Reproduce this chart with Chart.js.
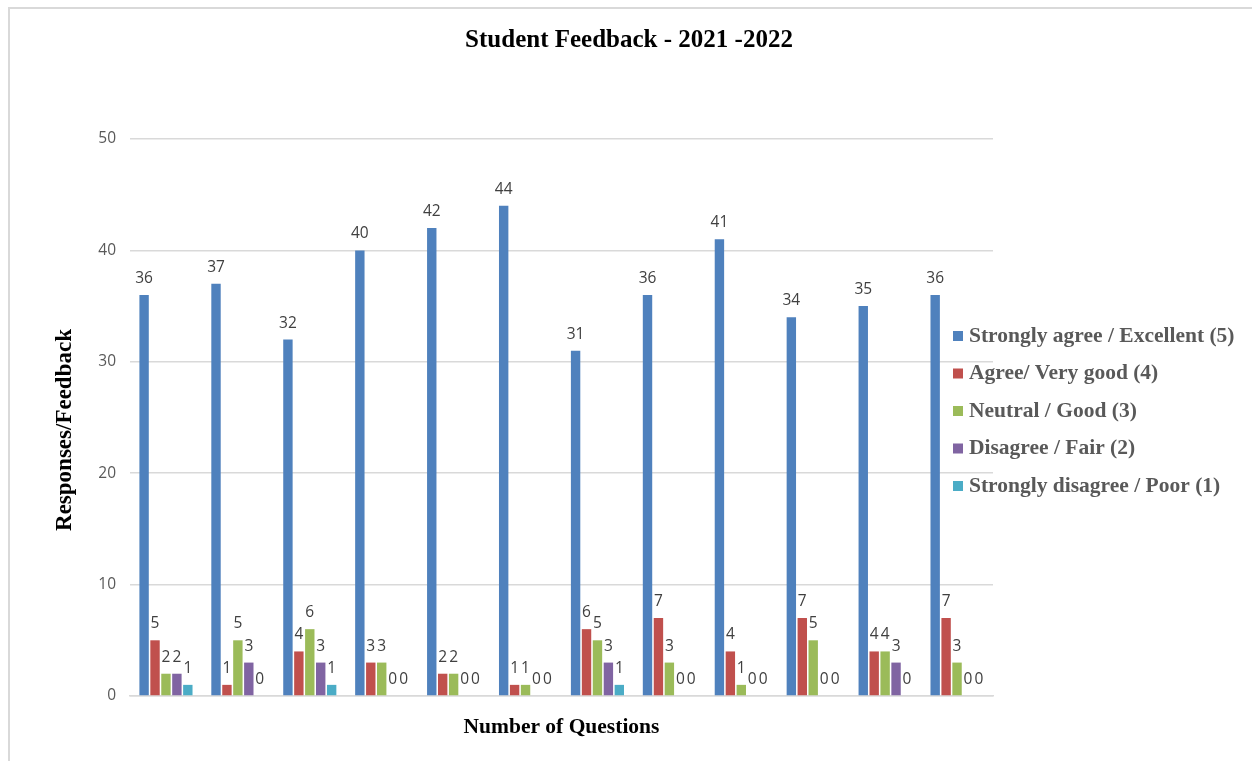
<!DOCTYPE html>
<html>
<head>
<meta charset="utf-8">
<title>Student Feedback - 2021 -2022</title>
<script src="https://cdn.jsdelivr.net/npm/chart.js@4.4.1/dist/chart.umd.min.js"></script>
<style>
  body { margin: 0; background: #fff; }
  .frame {
    position: absolute; left: 8px; top: 7px; right: 0; bottom: 0;
    border-left: 2px solid #d9d9d9; border-top: 2px solid #d9d9d9;
  }
  .wrap { position: absolute; left: 0; top: 0; width: 1252px; height: 761px; }
</style>
</head>
<body>
<div class="frame"></div>
<div class="wrap"><canvas class="grafico"></canvas></div>
<script>
const canvas = document.querySelector('.grafico');

const preguntas = ['Q1', 'Q2', 'Q3', 'Q4', 'Q5', 'Q6', 'Q7', 'Q8', 'Q9', 'Q10', 'Q11', 'Q12'];

const excelente = [36, 37, 32, 40, 42, 44, 31, 36, 41, 34, 35, 36];
const muyBueno  = [5, 1, 4, 3, 2, 1, 6, 7, 4, 7, 4, 7];
const bueno     = [2, 5, 6, 3, 2, 1, 5, 3, 1, 5, 4, 3];
const regular   = [2, 3, 3, 0, 0, 0, 3, 0, 0, 0, 3, 0];
const pobre     = [1, 0, 1, 0, 0, 0, 1, 0, 0, 0, 0, 0];

const series = [
    { label: 'Strongly agree / Excellent (5)', data: excelente, color: '#4f81bd' },
    { label: 'Agree/ Very good (4)', data: muyBueno, color: '#c0504d' },
    { label: 'Neutral / Good (3)', data: bueno, color: '#9bbb59' },
    { label: 'Disagree / Fair (2)', data: regular, color: '#8064a2' },
    { label: 'Strongly disagree / Poor (1)', data: pobre, color: '#4bacc6' }
];

const serif = '"Liberation Serif", "Times New Roman", serif';
const sans = '"Open Sans", "Liberation Sans", sans-serif';

// numbers over each bar, zeros included
const etiquetas = {
    id: 'etiquetas',
    afterDatasetsDraw(chart) {
        const ctx = chart.ctx;
        ctx.save();
        ctx.font = '15.5px ' + sans;
        ctx.fillStyle = '#404040';
        ctx.textAlign = 'center';
        ctx.textBaseline = 'alphabetic';
        chart.data.datasets.forEach((ds, i) => {
            chart.getDatasetMeta(i).data.forEach((bar, j) => {
                ctx.fillText(String(ds.data[j]), bar.x, bar.y - 12);
            });
        });
        ctx.restore();
    }
};

// title, axis titles and the legend drawn over the right side of the plot
const textos = {
    id: 'textos',
    afterDraw(chart) {
        const ctx = chart.ctx;
        const area = chart.chartArea;
        ctx.save();
        ctx.fillStyle = '#000';
        ctx.textAlign = 'center';
        ctx.textBaseline = 'alphabetic';
        ctx.font = 'bold 25px ' + serif;
        ctx.fillText('Student Feedback - 2021 -2022', 629, 47);

        ctx.font = 'bold 21.5px ' + serif;
        ctx.fillText('Number of Questions', (area.left + area.right) / 2, 733);

        ctx.save();
        ctx.translate(71, 430);
        ctx.rotate(-Math.PI / 2);
        ctx.font = 'bold 23px ' + serif;
        ctx.fillText('Responses/Feedback', 0, 0);
        ctx.restore();

        ctx.textAlign = 'left';
        ctx.textBaseline = 'middle';
        ctx.font = 'bold 21.5px ' + serif;
        chart.data.datasets.forEach((ds, i) => {
            const y = 336 + i * 37.5;
            ctx.fillStyle = ds.backgroundColor;
            ctx.fillRect(953, y - 5, 10, 10);
            ctx.fillStyle = '#595959';
            ctx.fillText(ds.label, 969, y);
        });
        ctx.restore();
    }
};

const config = {
    type: 'bar',
    data: {
        labels: preguntas,
        datasets: series.map((s) => ({
            label: s.label,
            data: s.data,
            backgroundColor: s.color,
            categoryPercentage: 0.76,
            barPercentage: 0.86
        }))
    },
    options: {
        responsive: true,
        maintainAspectRatio: false,
        animation: false,
        layout: { padding: { top: 139, right: 259, bottom: 0, left: 0 } },
        plugins: {
            legend: { display: false },
            title: { display: false },
            tooltip: { enabled: false }
        },
        scales: {
            x: {
                grid: { display: false, drawTicks: false },
                border: { color: '#d9d9d9', width: 1.5 },
                ticks: { display: false },
                afterFit: (s) => { s.height = 65; }
            },
            y: {
                min: 0,
                max: 50,
                ticks: { stepSize: 10, padding: 14, color: '#595959', font: { family: sans, size: 15.5 } },
                grid: { color: '#d9d9d9', lineWidth: 1.5, drawTicks: false },
                border: { display: false },
                afterFit: (s) => { s.width = 130; }
            }
        }
    },
    plugins: [etiquetas, textos]
};

const myChart = new Chart(canvas, config);
</script>
</body>
</html>
